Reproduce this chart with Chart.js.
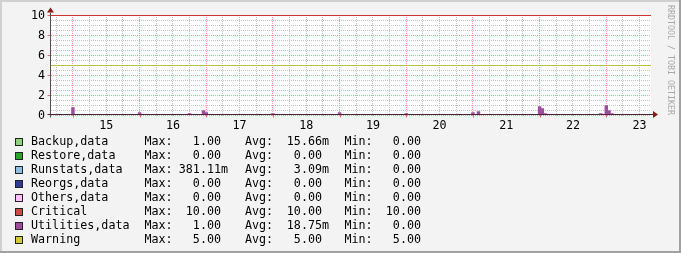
<!DOCTYPE html>
<html>
<head>
<meta charset="utf-8">
<script src="https://cdn.jsdelivr.net/npm/chart.js@4.4.1/dist/chart.umd.min.js"></script>
<style>
  html, body { margin: 0; padding: 0; background: #f3f3f3; }
</style>
</head>
<body>
<canvas id="myChart" width="681" height="253"></canvas>
<script>
// hours are counted from midnight of the 15th
const timeSpan = [-7.9, 208.1];
const dayLabels = ['15', '16', '17', '18', '19', '20', '21', '22', '23'];
const dayNoonHours = [12, 36, 60, 84, 108, 132, 156, 180, 204];

const utilHours  = [0,   24,  42,  47,  48,  72,  96,  120, 144, 146, 147, 168, 169, 170, 190, 192, 193, 194];
const utilValues = [0.8, 0.3, 0.2, 0.5, 0.3, 0.2, 0.3, 0.2, 0.3, 0.4, 0.1, 0.9, 0.7, 0.2, 0.2, 1.0, 0.5, 0.2];
const criticalLevel = [10, 10];
const warningLevel = [5, 5];

const legendNames  = ['Backup,data', 'Restore,data', 'Runstats,data', 'Reorgs,data', 'Others,data', 'Critical', 'Utilities,data', 'Warning'];
const legendColors = ['#90d080', '#30a030', '#90c0e0', '#303c90', '#ffc0ff', '#d04848', '#9c4e9c', '#d0c840'];
const legendMax = ['1.00', '0.00', '381.11m', '0.00', '0.00', '10.00', '1.00', '5.00'];
const legendAvg = ['15.66m', '0.00', '3.09m', '0.00', '0.00', '10.00', '18.75m', '5.00'];
const legendMin = ['0.00', '0.00', '0.00', '0.00', '0.00', '10.00', '0.00', '5.00'];

const FONT = '11.7px "DejaVu Sans Mono"';
const MINOR = '#c4c4c4';
const MAJOR = '#ff9a9a';

// value with an optional unit letter after it, number right aligned
function drawValue(ctx, s, xEnd, y) {
  let unit = '';
  if (s.endsWith('m')) { unit = 'm'; s = s.slice(0, -1); }
  ctx.textAlign = 'right';
  ctx.fillText(s, xEnd, y);
  ctx.textAlign = 'left';
  if (unit) ctx.fillText(unit, xEnd, y);
}

const rrdLook = {
  id: 'rrdLook',
  beforeDraw(chart) {
    const ctx = chart.ctx, a = chart.chartArea;
    ctx.save();
    ctx.fillStyle = '#f3f3f3';
    ctx.fillRect(0, 0, chart.width, chart.height);
    ctx.fillStyle = '#d0d0d0';
    ctx.fillRect(0, 0, chart.width, 2);
    ctx.fillRect(0, 0, 2, chart.height);
    ctx.fillStyle = '#a0a0a0';
    ctx.fillRect(0, chart.height - 2, chart.width, 2);
    ctx.fillRect(chart.width - 2, 0, 2, chart.height);
    ctx.fillStyle = '#ffffff';
    const t = Math.floor(a.top);
    ctx.fillRect(a.left, t, a.right - a.left, Math.ceil(a.bottom) - t);
    ctx.restore();
  },
  afterDatasetsDraw(chart) {
    const ctx = chart.ctx, a = chart.chartArea;
    const x = chart.scales.x, y = chart.scales.y;
    const ax = Math.floor(a.left) - 0.5;
    const ay = Math.floor(a.bottom) - 0.5;
    ctx.save();
    ctx.setLineDash([]);
    // small ticks outside the plot at major grid lines
    ctx.strokeStyle = '#e07070';
    ctx.lineWidth = 1;
    ctx.beginPath();
    for (let h = 0; h <= timeSpan[1]; h += 24) {
      const px = Math.round(x.getPixelForValue(h)) + 0.5;
      ctx.moveTo(px, ay); ctx.lineTo(px, ay + 3);
    }
    for (let v = 2; v <= 10; v += 2) {
      const py = Math.round(y.getPixelForValue(v)) - 0.5;
      ctx.moveTo(ax - 3, py); ctx.lineTo(ax, py);
    }
    ctx.stroke();
    // axes
    ctx.strokeStyle = '#505050';
    ctx.beginPath();
    ctx.moveTo(ax, ay + 3); ctx.lineTo(ax, a.top - 3);
    ctx.stroke();
    ctx.strokeStyle = '#4a2844';
    ctx.beginPath();
    ctx.moveTo(ax - 3, ay); ctx.lineTo(a.right + 2, ay);
    ctx.stroke();
    // arrows
    ctx.fillStyle = '#8b1a1a';
    ctx.beginPath();
    ctx.moveTo(ax, a.top - 8); ctx.lineTo(ax - 3.5, a.top - 3); ctx.lineTo(ax + 3.5, a.top - 3);
    ctx.fill();
    ctx.beginPath();
    ctx.moveTo(a.right + 7, ay); ctx.lineTo(a.right + 2, ay - 3.5); ctx.lineTo(a.right + 2, ay + 3.5);
    ctx.fill();
    ctx.restore();
  },
  afterDraw(chart) {
    const ctx = chart.ctx;
    ctx.save();
    // watermark on the right edge
    ctx.fillStyle = '#a8a8a8';
    ctx.font = '8.3px "DejaVu Sans Mono"';
    ctx.translate(668, 5);
    ctx.rotate(Math.PI / 2);
    ctx.textBaseline = 'alphabetic';
    ctx.fillText('RRDTOOL / TOBI OETIKER', 0, 0);
    ctx.restore();

    ctx.save();
    ctx.font = FONT;
    ctx.textBaseline = 'alphabetic';
    for (let i = 0; i < legendNames.length; i++) {
      const by = 145 + i * 14;
      ctx.fillStyle = legendColors[i];
      ctx.fillRect(15, 138 + i * 14, 8, 8);
      ctx.strokeStyle = '#222';
      ctx.lineWidth = 1;
      ctx.strokeRect(15.5, 138.5 + i * 14, 7, 7);
      ctx.fillStyle = '#000';
      ctx.textAlign = 'left';
      ctx.fillText(legendNames[i], 31, by);
      ctx.fillText('Max:', 144.5, by);
      drawValue(ctx, legendMax[i], 221, by);
      ctx.fillText('Avg:', 245, by);
      drawValue(ctx, legendAvg[i], 322, by);
      ctx.fillText('Min:', 344.5, by);
      drawValue(ctx, legendMin[i], 421, by);
    }
    ctx.restore();
  }
};

Chart.defaults.font.family = '"DejaVu Sans Mono"';
Chart.defaults.font.size = 11.7;
Chart.defaults.color = '#000000';

const ctx = document.getElementById('myChart');
const myChart = new Chart(ctx, {
  type: 'line',
  data: {
    datasets: [{
      type: 'line',
      label: 'Critical',
      data: timeSpan.map((h, i) => ({ x: h, y: criticalLevel[i] })),
      borderColor: '#cc3333',
      backgroundColor: '#cc3333',
      borderWidth: 1,
      pointRadius: 0,
      fill: false,
      clip: false,
      order: 1
    }, {
      type: 'line',
      label: 'Warning',
      data: timeSpan.map((h, i) => ({ x: h, y: warningLevel[i] })),
      borderColor: '#c0c040',
      backgroundColor: '#c0c040',
      borderWidth: 1,
      pointRadius: 0,
      fill: false,
      clip: false,
      order: 2
    }, {
      type: 'bar',
      label: 'Utilities,data',
      data: utilHours.map((h, i) => ({ x: h, y: utilValues[i] })),
      backgroundColor: '#9c4e9c',
      borderWidth: 0,
      barPercentage: 1,
      categoryPercentage: 1,
      order: 3
    }]
  },
  options: {
    responsive: false,
    animation: false,
    layout: { padding: { top: 15.5, right: 30, bottom: 0, left: 0 } },
    plugins: { legend: { display: false }, tooltip: { enabled: false } },
    scales: {
      x: {
        type: 'linear',
        min: timeSpan[0],
        max: timeSpan[1],
        offset: false,
        afterBuildTicks(scale) {
          const t = [];
          for (let h = -6; h <= 204; h += 6) t.push({ value: h });
          scale.ticks = t;
        },
        afterFit(scale) { scale.height = 137.5; },
        ticks: {
          autoSkip: false,
          maxRotation: 0,
          minRotation: 0,
          padding: 3,
          callback: function(value) {
            const i = dayNoonHours.indexOf(value);
            return i >= 0 ? dayLabels[i] : '';
          }
        },
        grid: {
          offset: false,
          drawTicks: false,
          color: function(c) {
            return c.tick && c.tick.value % 24 === 0 ? MAJOR : MINOR;
          }
        },
        // dots start half a pixel into the plot, shift them onto whole pixels
        border: { display: false, dash: [1, 1], dashOffset: 0.5 }
      },
      y: {
        type: 'linear',
        min: 0,
        max: 10,
        afterBuildTicks(scale) {
          const t = [];
          for (let v = 0; v <= 10; v += 0.5) t.push({ value: v });
          scale.ticks = t;
        },
        afterFit(scale) { scale.width = 51; },
        ticks: {
          autoSkip: false,
          padding: 6,
          callback: function(value) {
            return value % 2 === 0 ? value : '';
          }
        },
        grid: {
          drawTicks: false,
          color: function(c) {
            return c.tick && c.tick.value % 2 === 0 ? MAJOR : MINOR;
          }
        },
        border: { display: false, dash: [1, 1] }
      }
    }
  },
  plugins: [rrdLook]
});
</script>
</body>
</html>
